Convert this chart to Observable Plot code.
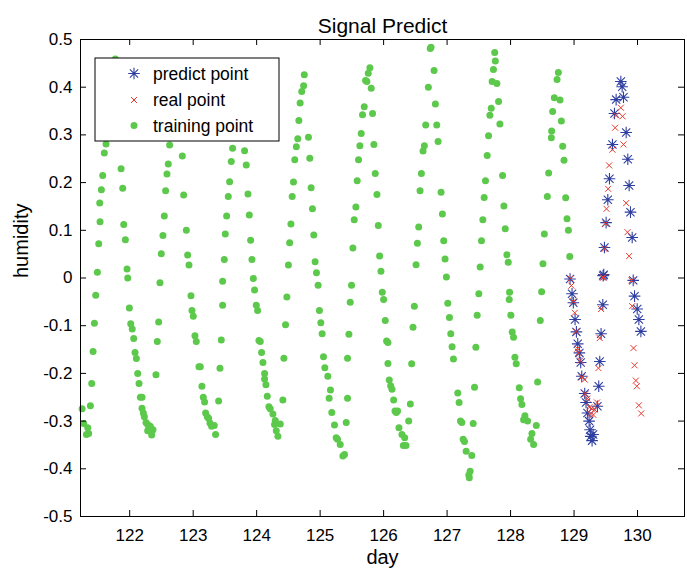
<!DOCTYPE html>
<html><head><meta charset="utf-8">
<script src="https://cdn.jsdelivr.net/npm/d3@7"></script>
<script src="https://cdn.jsdelivr.net/npm/@observablehq/plot@0.6"></script>
<style>body{margin:0;background:#fff}</style>
</head><body><div id="chart"></div>
<script>
// ---- data ----
const trainDay = [
121.25,121.276,121.318,121.339,121.354,121.381,121.402,121.423,121.444,121.465,121.491,121.512,121.533,121.528,121.554,121.575,121.60,121.627,121.774,
121.864,121.89,121.906,121.932,121.958,121.969,121.995,122.016,122.04,122.063,122.084,122.105,122.126,122.147,122.168,122.194,122.194,122.215,122.231,122.257,122.283,122.304,122.325,122.367,122.283,122.346,
122.414,122.435,122.456,122.477,122.498,122.524,122.545,122.566,122.587,122.608,122.629,
122.829,122.85,122.892,122.913,122.934,122.965,122.981,123.002,123.028,123.049,123.091,123.112,123.138,123.159,123.18,123.196,123.222,123.243,123.264,123.29,123.332,123.353,
123.401,123.422,123.443,123.464,123.464,123.49,123.506,123.527,123.553,123.574,123.6,123.621,
123.81,123.836,123.863,123.884,123.905,123.926,123.947,123.967,123.994,124.015,124.036,124.057,124.078,124.099,124.125,124.125,124.146,124.167,124.193,124.214,124.256,124.282,124.293,124.309,124.335,124.372,
124.413,124.429,124.455,124.476,124.50,124.52,124.54,124.56,124.58,124.60,124.625,124.648,124.665,124.685,124.71,124.74,124.75,
124.816,124.837,124.858,124.879,124.9,124.921,124.942,124.968,124.989,125.011,125.032,125.053,125.074,125.121,125.142,125.163,125.184,125.226,125.253,125.274,125.316,125.358,125.384,
125.411,125.432,125.432,125.453,125.474,125.495,125.516,125.537,125.563,125.584,125.605,125.626,125.647,125.668,125.695,125.716,125.737,125.758,125.784,
125.805,125.826,125.847,125.868,125.895,125.916,125.937,125.958,125.979,126.0,126.026,126.047,126.068,126.068,126.089,126.111,126.132,126.158,126.179,126.2,126.22,126.242,126.289,126.332,126.311,126.353,
126.395,126.421,126.442,126.463,126.484,126.511,126.532,126.553,126.574,126.595,126.621,126.642,126.663,126.705,126.747,126.735,
126.795,126.816,126.837,126.858,126.905,126.926,126.947,126.968,126.989,127.011,127.037,127.058,127.079,127.1,127.168,127.189,127.211,127.232,127.253,127.274,127.3,127.363,127.342,127.35,
127.389,127.411,127.432,127.453,127.474,127.5,127.521,127.542,127.563,127.584,127.605,127.632,127.653,127.674,127.695,127.71,127.73,127.76,127.75,
127.784,127.811,127.832,127.874,127.895,127.916,127.942,127.963,127.984,127.979,128.005,128.026,128.047,128.068,128.089,128.137,128.158,128.179,128.226,128.205,128.268,128.337,128.316,128.363,128.405,
128.426,128.468,128.489,128.51,128.532,128.579,128.6,128.642,128.647,128.663,128.689,128.732,128.753,
128.779,128.8,128.821,128.842,128.868,128.889,128.911,128.932
];
const trainHum = [
-0.274,-0.305,-0.328,-0.314,-0.326,-0.268,-0.221,-0.154,-0.095,-0.036,0.012,0.072,0.118,0.157,0.185,0.215,0.262,0.281,0.459,
0.229,0.188,0.112,0.080,0.019,0.0,-0.063,-0.096,-0.107,-0.127,-0.156,-0.169,-0.2,-0.221,-0.25,-0.25,-0.273,-0.283,-0.291,-0.303,-0.307,-0.313,-0.311,-0.318,-0.32,-0.329,
-0.203,-0.133,-0.092,-0.01,0.051,0.089,0.130,0.183,0.218,0.239,0.279,
0.256,0.174,0.1,0.048,0.027,-0.037,-0.068,-0.08,-0.121,-0.133,-0.186,-0.186,-0.227,-0.25,-0.26,-0.283,-0.291,-0.294,-0.304,-0.311,-0.309,-0.328,
-0.258,-0.189,-0.13,-0.057,-0.007,0.039,0.092,0.130,0.171,0.202,0.244,0.272,
0.267,0.237,0.176,0.132,0.079,0.039,-0.001,-0.025,-0.057,-0.068,-0.131,-0.133,-0.156,-0.177,-0.2,-0.212,-0.224,-0.248,-0.27,-0.274,-0.285,-0.307,-0.299,-0.32,-0.332,-0.306,
-0.256,-0.168,-0.098,-0.04,0.027,0.074,0.113,0.171,0.201,0.248,0.275,0.292,0.33,0.367,0.391,0.403,0.426,
0.295,0.251,0.189,0.145,0.09,0.034,0.011,-0.015,-0.068,-0.094,-0.117,-0.165,-0.188,-0.206,-0.252,-0.235,-0.282,-0.308,-0.335,-0.338,-0.349,-0.373,-0.37,
-0.303,-0.252,-0.168,-0.118,-0.051,-0.015,0.063,0.122,0.149,0.204,0.248,0.277,0.303,0.342,0.359,0.414,0.412,0.429,0.441,
0.398,0.345,0.28,0.219,0.175,0.11,0.046,0.014,-0.03,-0.045,-0.089,-0.132,-0.135,-0.179,-0.214,-0.226,-0.233,-0.256,-0.279,-0.282,-0.279,-0.314,-0.328,-0.335,-0.351,-0.351,
-0.3,-0.264,-0.18,-0.103,-0.059,0.028,0.073,0.107,0.183,0.219,0.266,0.277,0.321,0.4,0.484,0.481,
0.435,0.365,0.321,0.286,0.18,0.134,0.078,0.04,0.002,-0.053,-0.083,-0.117,-0.144,-0.17,-0.241,-0.261,-0.3,-0.303,-0.338,-0.343,-0.363,-0.405,-0.413,-0.419,
-0.372,-0.305,-0.229,-0.145,-0.078,-0.033,0.023,0.078,0.122,0.169,0.204,0.257,0.298,0.341,0.356,0.412,0.437,0.455,0.473,
0.408,0.37,0.323,0.215,0.151,0.103,0.049,0.033,-0.03,-0.045,-0.078,-0.113,-0.124,-0.166,-0.18,-0.23,-0.253,-0.265,-0.289,-0.297,-0.3,-0.326,-0.338,-0.349,-0.309,
-0.218,-0.089,-0.029,0.03,0.092,0.171,0.22,0.294,0.308,0.349,0.378,0.416,0.431,
0.373,0.329,0.276,0.247,0.168,0.124,0.1,0.045
];
const predDay = [128.937,128.968,128.989,129.016,129.037,129.058,129.084,129.105,129.121,129.168,129.189,129.211,129.237,129.253,129.263,129.284,129.3,
129.368,129.389,129.405,129.426,129.453,129.468,129.458,129.479,129.505,129.532,129.558,129.605,129.637,129.663,129.737,129.758,129.779,
129.821,129.847,129.868,129.889,129.916,129.932,129.953,129.995,130.021,130.053];
const predHum = [-0.002,-0.033,-0.052,-0.087,-0.113,-0.138,-0.157,-0.177,-0.206,-0.242,-0.261,-0.283,-0.3,-0.318,-0.332,-0.341,-0.328,
-0.269,-0.227,-0.175,-0.117,-0.056,0.007,0.005,0.064,0.116,0.164,0.208,0.28,0.345,0.374,0.412,0.401,0.379,
0.305,0.249,0.194,0.138,0.085,-0.005,-0.038,-0.065,-0.087,-0.112];
const realDay = [128.942,128.958,128.989,129.011,129.032,129.053,129.068,129.095,129.121,129.168,129.179,129.211,129.242,129.258,129.279,129.305,129.326,
129.363,129.384,129.405,129.426,129.453,129.463,129.479,129.495,129.511,129.537,129.553,129.605,129.647,129.663,129.737,129.763,129.779,
129.821,129.842,129.868,129.905,129.916,129.937,129.953,129.974,129.989,130.021,130.058];
const realHum = [-0.001,-0.016,-0.049,-0.073,-0.112,-0.148,-0.157,-0.173,-0.208,-0.213,-0.243,-0.253,-0.271,-0.285,-0.274,-0.287,-0.276,
-0.261,-0.189,-0.126,-0.065,0.001,0.001,0.061,0.114,0.145,0.187,0.236,0.269,0.315,0.341,0.357,0.339,0.28,
0.157,0.096,0.046,-0.005,-0.059,-0.147,-0.183,-0.215,-0.227,-0.267,-0.284];
const xTicks = [122,123,124,125,126,127,128,129,130];
const yTicks = [-0.5,-0.4,-0.3,-0.2,-0.1,0,0.1,0.2,0.3,0.4,0.5];
const seriesNames = ["predict point","real point","training point"];
const titleText = "Signal Predict", xLabel = "day", yLabel = "humidity";

// ---- build ----
const train = trainDay.map((d,i)=>({day:d, hum:trainHum[i]}));
const pred = predDay.map((d,i)=>({day:d, hum:predHum[i]}));
const real = realDay.map((d,i)=>({day:d, hum:realHum[i]}));

const W = 687, H = 574, mL = 80, mR = 3, mT = 39, mB = 58;
const pw = W - mL - mR, ph = H - mT - mB, tk = 6;
const GREEN = "#5dc94c", BLUE = "#2f3fa0", RED = "#e8392e";
const FONT = "'Liberation Sans', Arial, Helvetica, sans-serif";

// symbols whose arm length equals r
const asterisk = {draw(ctx, size){const r=Math.sqrt(size/Math.PI), q=r*0.7071;
  ctx.moveTo(-r,0);ctx.lineTo(r,0);ctx.moveTo(0,-r);ctx.lineTo(0,r);
  ctx.moveTo(-q,-q);ctx.lineTo(q,q);ctx.moveTo(-q,q);ctx.lineTo(q,-q);}};
const cross = {draw(ctx, size){const r=Math.sqrt(size/Math.PI);
  ctx.moveTo(-r,-r);ctx.lineTo(r,r);ctx.moveTo(-r,r);ctx.lineTo(r,-r);}};
const fmtY = d => d === 0 ? "0" : d.toFixed(1);

const chart = Plot.plot({
  width: W, height: H, marginLeft: mL, marginRight: mR, marginTop: mT, marginBottom: mB,
  style: {fontFamily: FONT, fontSize: "17px", background: "#fff", color: "#000", overflow: "visible"},
  x: {domain: [121.225, 130.74]},
  y: {domain: [-0.5, 0.5]},
  marks: [
    Plot.dot(train, {x: "day", y: "hum", r: 3.5, fill: GREEN, stroke: "none"}),
    Plot.dot(pred, {x: "day", y: "hum", symbol: asterisk, r: 5.8, stroke: BLUE, strokeWidth: 1.1, fill: "none"}),
    Plot.dot(real, {x: "day", y: "hum", symbol: cross, r: 3, stroke: RED, strokeWidth: 1, fill: "none"}),
    // inward ticks on all four sides
    Plot.tickX(xTicks, {x: d => d, insetTop: ph - tk, stroke: "#000"}),
    Plot.tickX(xTicks, {x: d => d, insetBottom: ph - tk, stroke: "#000"}),
    Plot.tickY(yTicks, {y: d => d, insetRight: pw - tk, stroke: "#000"}),
    Plot.tickY(yTicks, {y: d => d, insetLeft: pw - tk, stroke: "#000"}),
    Plot.axisX({ticks: xTicks, tickSize: 0, tickPadding: 12, tickFormat: d => String(d), label: null, fontSize: 17}),
    Plot.axisY({ticks: yTicks, tickSize: 0, tickPadding: 8, tickFormat: fmtY, label: null, fontSize: 17}),
    Plot.frame({stroke: "#000", strokeWidth: 1}),
    Plot.text([xLabel], {text: d => d, frameAnchor: "bottom", dy: 47, fontSize: 20}),
    Plot.text([yLabel], {text: d => d, frameAnchor: "left", dx: -59, rotate: -90, fontSize: 20}),
    Plot.text([titleText], {text: d => d, frameAnchor: "top", dy: -21, fontSize: 21})
  ]
});

// legend box (MATLAB-style, inside axes top-left)
const svg = d3.select(chart);
const lg = svg.append("g").attr("font-family", FONT).attr("font-size", 17.5).attr("text-anchor", "start");
const lx = 95, ly = 58, lw = 184, lh = 83;
lg.append("rect").attr("x", lx).attr("y", ly).attr("width", lw).attr("height", lh)
  .attr("fill", "#fff").attr("stroke", "#000").attr("stroke-width", 1);
const rowY = [73.5, 100, 125.5];
const mx = 134, tx = 153;
lg.append("path").attr("transform", `translate(${mx},${rowY[0]})`)
  .attr("d", d3.symbol(asterisk, Math.PI * 5.8 * 5.8)()).attr("stroke", BLUE).attr("stroke-width", 1.1).attr("fill", "none");
lg.append("path").attr("transform", `translate(${mx},${rowY[1]})`)
  .attr("d", d3.symbol(cross, Math.PI * 3 * 3)()).attr("stroke", RED).attr("stroke-width", 1).attr("fill", "none");
lg.append("circle").attr("cx", mx).attr("cy", rowY[2]).attr("r", 3.5).attr("fill", GREEN);
seriesNames.forEach((s, i) => {
  lg.append("text").attr("x", tx).attr("y", rowY[i]).attr("dy", "0.35em")
    .attr("text-anchor", "start").attr("fill", "#000").text(s);
});
document.getElementById("chart").appendChild(chart);
</script>
</body></html>
